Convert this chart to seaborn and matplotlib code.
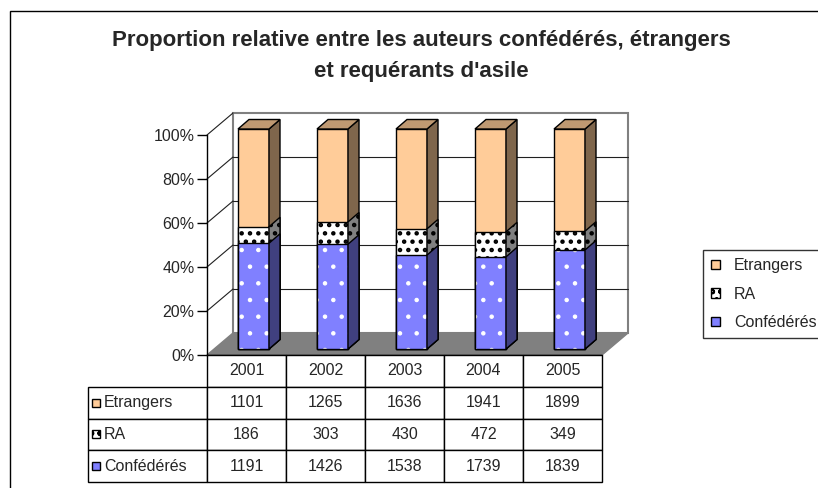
import pandas as pd
import seaborn as sns
import matplotlib
matplotlib.use("Agg")
import matplotlib.pyplot as plt  # noqa
from matplotlib.patches import Rectangle, Polygon, Patch  # noqa
from matplotlib.transforms import ScaledTranslation  # noqa
from matplotlib.ticker import PercentFormatter  # noqa

years = ["2001", "2002", "2003", "2004", "2005"]
etrangers = [1101, 1265, 1636, 1941, 1899]
ra = [186, 303, 430, 472, 349]
confederes = [1191, 1426, 1538, 1739, 1839]
series_names = ["Etrangers", "RA", "Confédérés"]

TITLE_1 = "Proportion relative entre les auteurs confédérés, étrangers"
TITLE_2 = "et requérants d'asile"

# colours (front, side, top)
C_ETR = "#FFCC99"
C_ETR_SIDE = "#7F664C"
C_ETR_TOP = "#BF9972"
C_CONF = "#8080FF"
C_CONF_SIDE = "#40407F"
C_RA = "#FFFFFF"
C_RA_SIDE = "#808080"

# pseudo 3d geometry in pixels
PX_X = 79.0
PX_Y = 2.2
WALL_DX, WALL_DY = 26 / PX_X, 22 / PX_Y
BAR_DX, BAR_DY = 11 / PX_X, 9.5 / PX_Y
FS = 11.5

sns.set_style("white")
plt.rcParams["font.family"] = ["Liberation Sans", "DejaVu Sans"]
plt.rcParams["hatch.linewidth"] = 2.0

W, H = 818, 488
fig = plt.figure(figsize=(W / 100, H / 100), dpi=100)

df = pd.DataFrame({"year": years, "etr": etrangers, "ra": ra, "conf": confederes})
tot = df["etr"] + df["ra"] + df["conf"]
df["cum_etr"] = 100.0
df["cum_ra"] = (df["conf"] + df["ra"]) / tot * 100
df["cum_conf"] = df["conf"] / tot * 100

ax = fig.add_axes([207 / W, 1 - 355 / H, 433 / W, 243 / H])
n = len(years)

# floor and back wall
floor = Polygon([(-0.5, 0), (n - 0.5, 0), (n - 0.5 + WALL_DX, WALL_DY), (-0.5 + WALL_DX, WALL_DY)],
                closed=True, fc="#808080", ec="#808080", lw=1, zorder=0.5, clip_on=False)
ax.add_patch(floor)
ax.add_patch(Rectangle((-0.5 + WALL_DX, WALL_DY), n, 100, fc="white", ec="#808080",
                       lw=1.5, zorder=0.4, clip_on=False))
for k in [20, 40, 60, 80]:
    ax.plot([-0.5 + WALL_DX, n - 0.5 + WALL_DX], [k + WALL_DY, k + WALL_DY],
            color="#202020", lw=0.8, zorder=0.6, clip_on=False)
for k in [20, 40, 60, 80, 100]:
    ax.plot([-0.5, -0.5 + WALL_DX], [k, k + WALL_DY], color="#202020", lw=0.8,
            zorder=0.6, clip_on=False)
ax.plot([-0.5, n - 0.5], [0, 0], color="black", lw=1, zorder=0.7, clip_on=False)

off = ax.transData + ScaledTranslation(7 / 100, 6 / 100, fig.dpi_scale_trans)

layers = [
    ("cum_etr", C_ETR, C_ETR_SIDE, None, None, None, 2, 1.0),
    ("cum_ra", C_RA, C_RA_SIDE, "..", "..", "black", 3, 2.0),
    ("cum_conf", C_CONF, C_CONF_SIDE, ".", None, "white", 4, 0.8),
]
for col, face, side, hatch, side_hatch, hcol, z, hlw in layers:
    before = len(ax.patches)
    with plt.rc_context({"hatch.linewidth": hlw}):
        sns.barplot(data=df, x="year", y=col, color=face, saturation=1, width=31 / PX_X,
                    errorbar=None, ax=ax, hatch=hatch, edgecolor=hcol if hcol else face,
                    linewidth=0, zorder=z)
        for p in ax.patches[before:]:
            p.set_transform(off)
            p.set_clip_on(False)
            x0, w, h = p.get_x(), p.get_width(), p.get_height()
            x1 = x0 + w
            ax.add_patch(Rectangle((x0, 0), w, h, fill=False, ec="black", lw=1,
                                   transform=off, zorder=z + 0.5, clip_on=False))
            ax.add_patch(Polygon([(x1, 0), (x1, h), (x1 + BAR_DX, h + BAR_DY), (x1 + BAR_DX, BAR_DY)],
                                 closed=True, fc=side, ec="black", lw=1, hatch=side_hatch,
                                 transform=off, zorder=z + 0.5, clip_on=False))
            if col == "cum_etr":
                ax.add_patch(Polygon([(x0, h), (x1, h), (x1 + BAR_DX, h + BAR_DY),
                                      (x0 + BAR_DX, h + BAR_DY)],
                                     closed=True, fc=C_ETR_TOP, ec="black", lw=1,
                                     transform=off, zorder=z + 0.5, clip_on=False))

ax.set_xlim(-0.5, -0.5 + 433 / PX_X)
ax.set_ylim(0, 243 / PX_Y)
ax.set_xticks([])
ax.set_xlabel("")
ax.set_ylabel("")
ax.set_yticks([0, 20, 40, 60, 80, 100])
ax.yaxis.set_major_formatter(PercentFormatter(decimals=0))
for s in ["top", "right", "bottom"]:
    ax.spines[s].set_visible(False)
ax.spines["left"].set_bounds(0, 100)
ax.spines["left"].set_color("black")
ax.spines["left"].set_linewidth(1)
ax.tick_params(axis="y", left=True, length=7, width=1, color="black", pad=2, labelsize=FS)
ax.patch.set_visible(False)

# data table
tab_ax = fig.add_axes([88 / W, 1 - 482 / H, 514 / W, 127 / H])
tab_ax.axis("off")
cells = [[""] + years,
         ["Etrangers"] + [str(v) for v in etrangers],
         ["RA"] + [str(v) for v in ra],
         ["Confédérés"] + [str(v) for v in confederes]]
tbl = tab_ax.table(cellText=cells, colWidths=[119] + [79] * n, bbox=[0, 0, 1, 1], cellLoc="center")
tbl.auto_set_font_size(False)
tbl.set_fontsize(FS)
for (r, c), cell in tbl.get_celld().items():
    cell.set_edgecolor("black")
    cell.set_linewidth(1)
    if r == 0 and c == 0:
        cell.visible_edges = "open"
    if c == 0 and r > 0:
        cell.set_text_props(ha="left")
        cell.PAD = 16 / 119

marker_styles = {
    "Etrangers": dict(fc=C_ETR, hatch=None),
    "RA": dict(fc="white", hatch="oo"),
    "Confédérés": dict(fc=C_CONF, hatch=None),
}
row_h = 1 / 4
with plt.rc_context({"hatch.linewidth": 1.4}):
    for i, name in enumerate(series_names):
        cy = 1 - row_h * (i + 1.5)
        st = marker_styles[name]
        tab_ax.add_patch(Rectangle((4 / 514, cy - 4 / 127), 8 / 514, 8 / 127, fc=st["fc"],
                                   ec="black", lw=1, hatch=st["hatch"], transform=tab_ax.transAxes,
                                   zorder=5, clip_on=False))

    # legend
    handles = [Patch(fc=marker_styles[nm]["fc"], ec="black", lw=1, hatch=marker_styles[nm]["hatch"])
               for nm in series_names]
    leg = fig.legend(handles, series_names, loc="upper left", bbox_to_anchor=(703 / W, 1 - 250 / H),
                     frameon=True, fancybox=False, edgecolor="black", fontsize=FS,
                     handlelength=0.55, handleheight=0.55, labelspacing=0.85, handletextpad=0.9,
                     borderpad=0.5, borderaxespad=0)
    leg.get_frame().set_linewidth(1)

fig.text(421 / W, 1 - 46 / H, TITLE_1, ha="center", va="baseline", fontsize=16,
         fontweight="bold")
fig.text(421 / W, 1 - 77 / H, TITLE_2, ha="center", va="baseline", fontsize=16,
         fontweight="bold")

# outer frame of the chart area
fig.patches.append(Rectangle((10 / W, -0.1), 2, 1 - 11 / H + 0.1, fill=False, ec="black",
                             lw=1, transform=fig.transFigure, figure=fig))

fig.savefig("out.png", dpi=100)
